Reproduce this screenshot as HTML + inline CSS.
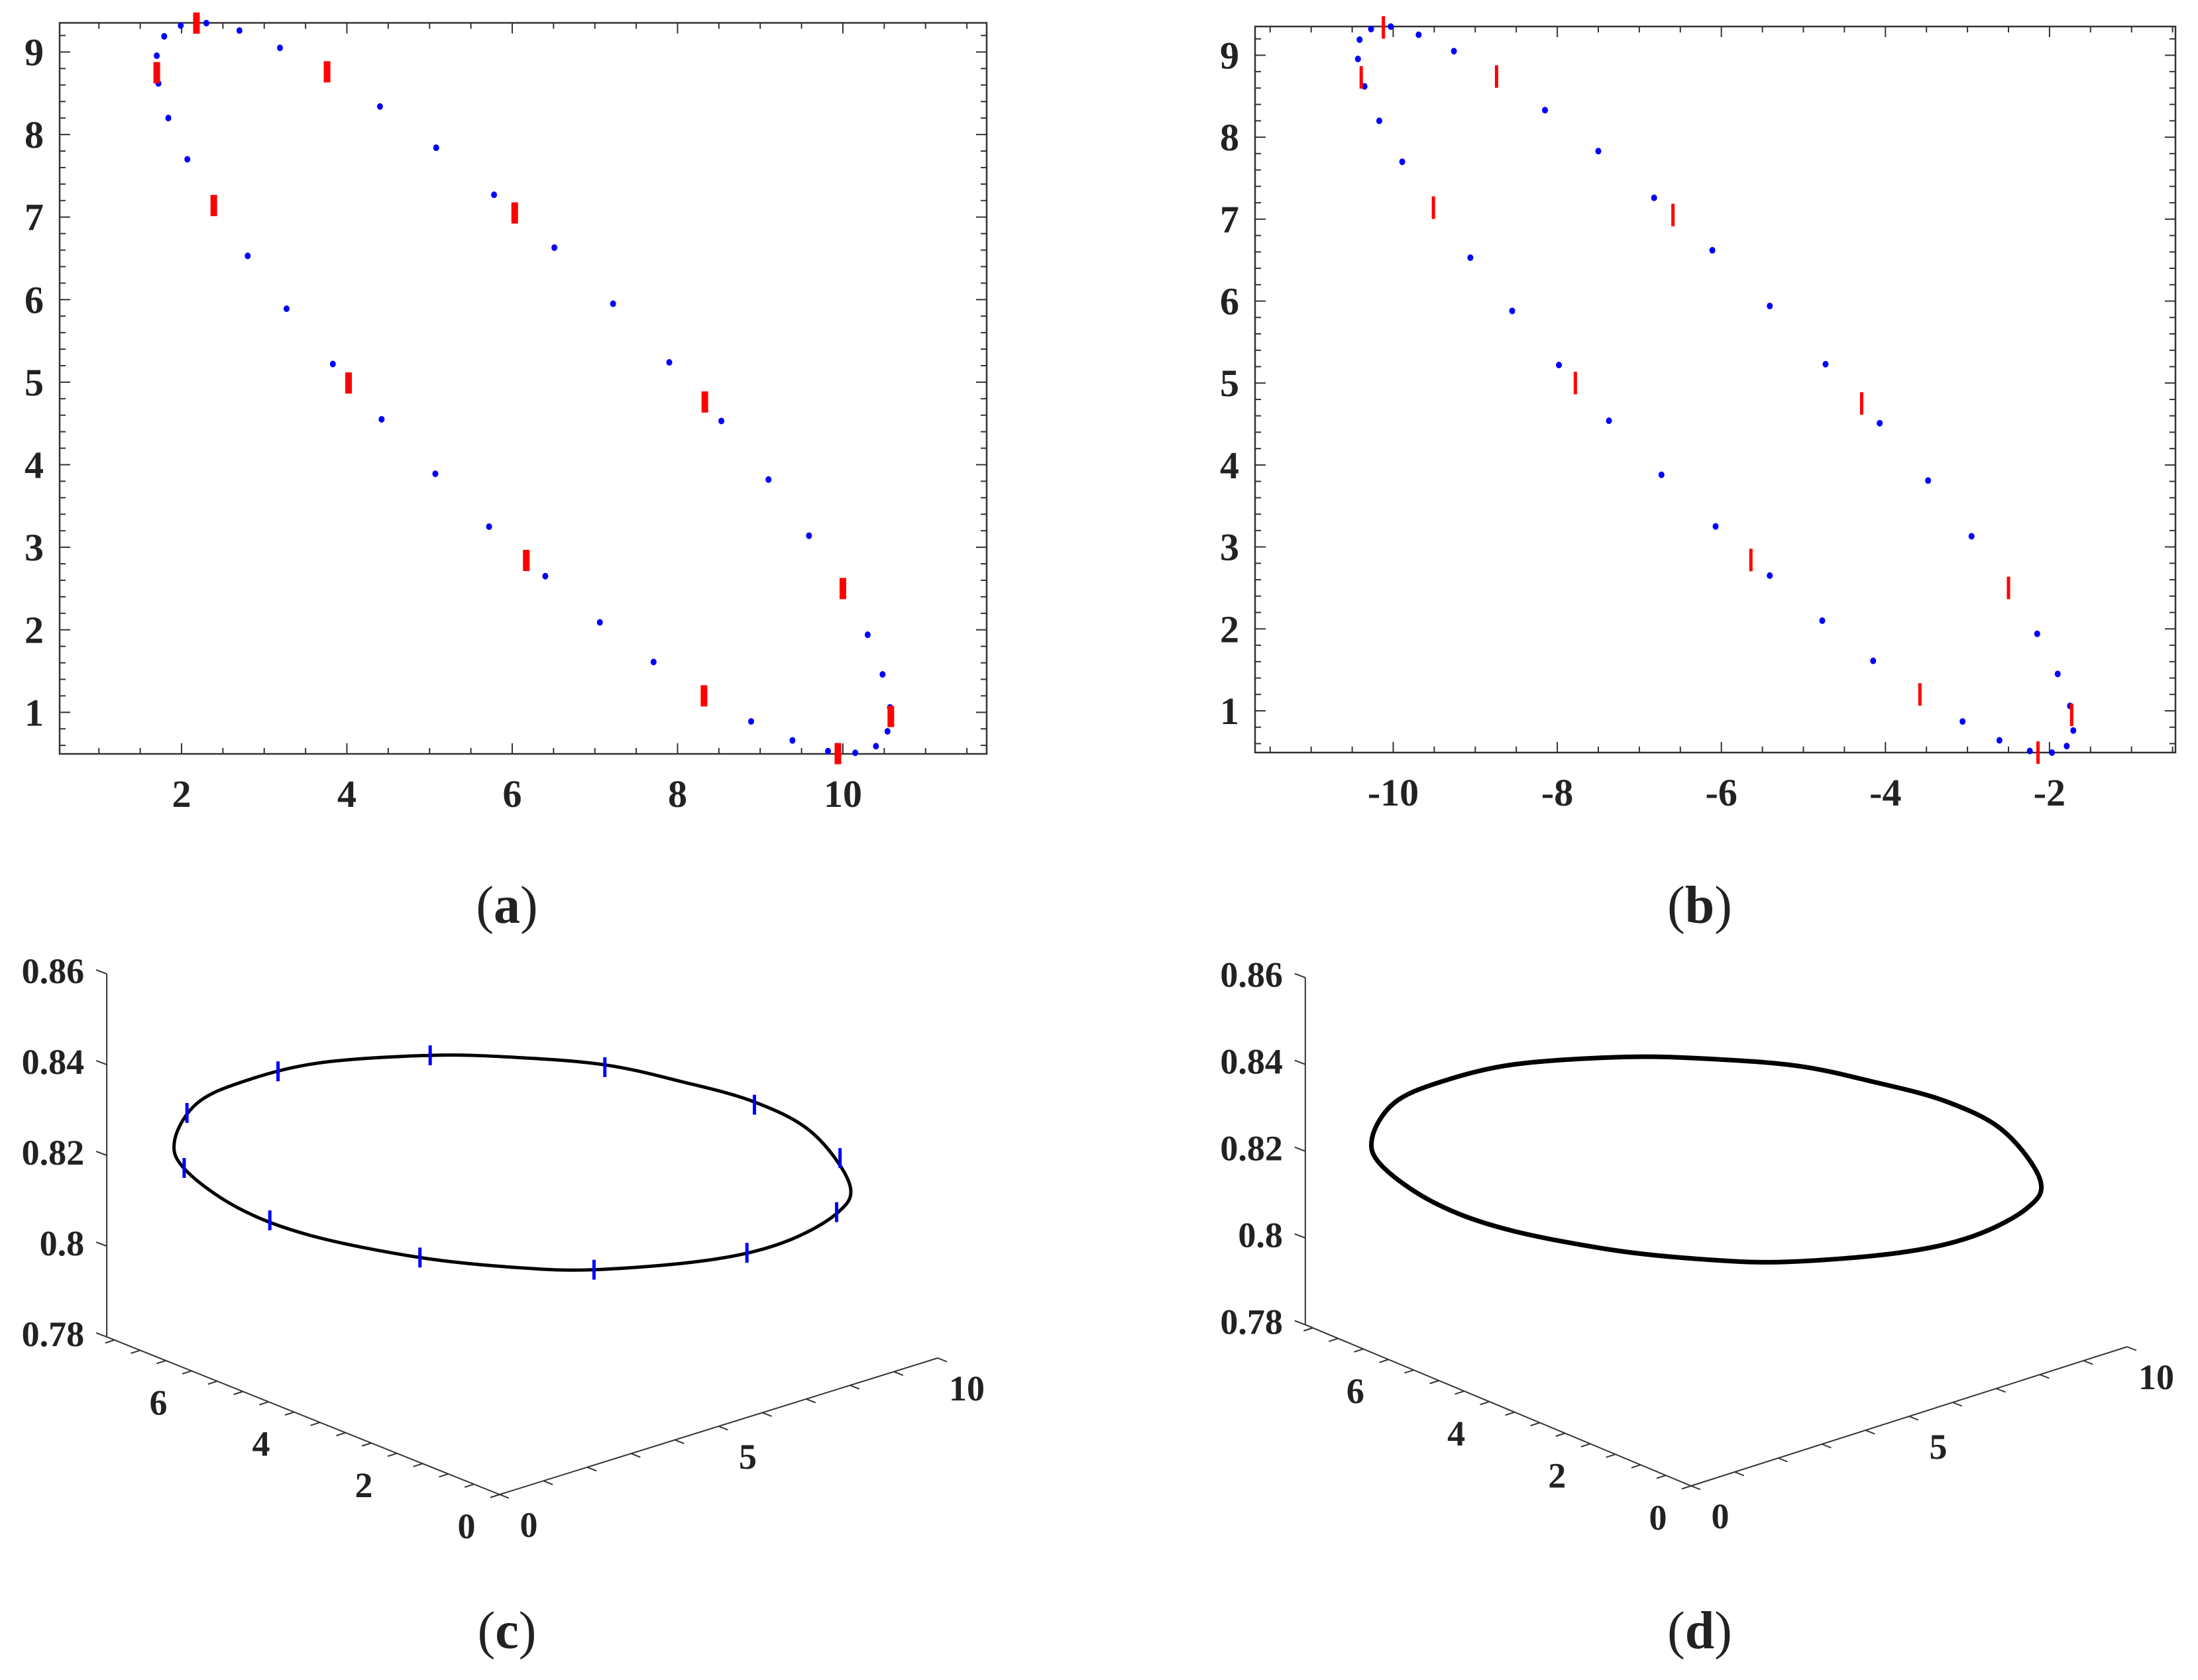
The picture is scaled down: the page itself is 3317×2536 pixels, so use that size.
<!DOCTYPE html>
<html><head><meta charset="utf-8"><style>
html,body{margin:0;padding:0;background:#fff;}
svg{display:block;}
text{font-family:"Liberation Serif",serif;fill:#222;}
</style></head><body>
<svg id="fig" width="3317" height="2536" viewBox="0 0 3317 2536" xmlns="http://www.w3.org/2000/svg">
<g id="pa"></g>
<g id="pb"></g>
<g id="pc"></g>
<g id="pd"></g>
<text x="765" y="1393" font-size="80" text-anchor="middle"><tspan font-weight="normal">(</tspan><tspan font-weight="bold">a</tspan><tspan font-weight="normal">)</tspan></text>
<text x="2565" y="1393" font-size="80" text-anchor="middle"><tspan>(</tspan><tspan font-weight="bold">b</tspan><tspan>)</tspan></text>
<text x="765" y="2488" font-size="80" text-anchor="middle"><tspan>(</tspan><tspan font-weight="bold">c</tspan><tspan>)</tspan></text>
<text x="2565" y="2488" font-size="80" text-anchor="middle"><tspan>(</tspan><tspan font-weight="bold">d</tspan><tspan>)</tspan></text>
</svg>
<script>
// ---- Panel (a) data ----
const aDotX = [1.70,1.72,1.79,1.84,1.99,2.07,2.30,2.70,2.80,3.19,3.27,3.83,4.40,4.42,5.07,5.08,5.72,5.78,6.40,6.51,7.06,7.22,7.71,7.90,8.53,8.89,9.10,9.39,9.59,9.82,10.15,10.30,10.40,10.48,10.54,10.57];
const aDotY = [8.955,8.62,9.19,8.20,9.32,7.70,9.35,9.26,6.53,9.05,5.89,5.22,8.34,4.55,3.89,7.84,3.25,7.27,2.65,6.63,2.09,5.95,1.61,5.24,4.53,0.89,3.82,0.66,3.14,0.53,0.51,1.94,0.59,1.46,0.77,1.06];
const aBarX = [2.18,1.70,3.76,2.39,6.03,4.02,8.33,6.17,10.0,8.32,10.58,9.94];
const aBarY = [9.35,8.75,8.76,7.14,7.05,4.99,4.76,2.84,2.50,1.20,0.95,0.50];
const aXTicks = [2,4,6,8,10];
const aXTickLabels = ["2","4","6","8","10"];
const aYTicks = [1,2,3,4,5,6,7,8,9];
const aYTickLabels = ["1","2","3","4","5","6","7","8","9"];
// ---- Panel (b) data ----
const bDotX = [-10.43,-10.35,-10.41,-10.17,-10.27,-9.89,-10.03,-9.69,-9.06,-9.26,-8.55,-7.98,-8.15,-7.37,-6.73,-7.50,-6.07,-6.82,-5.41,-6.11,-4.77,-5.41,-4.15,-4.73,-4.07,-3.06,-3.48,-2.61,-2.95,-2.24,-1.97,-2.15,-1.79,-1.90,-1.71,-1.75];
const bDotY = [8.955,8.62,9.19,8.20,9.32,7.70,9.35,9.25,6.53,9.05,5.88,5.22,8.33,4.54,3.88,7.83,3.25,7.26,2.65,6.62,2.10,5.94,1.61,5.23,4.51,0.87,3.81,0.64,3.13,0.51,0.49,1.94,0.57,1.45,0.76,1.06];
const bBarX = [-10.12,-10.39,-8.74,-9.51,-6.59,-7.78,-4.29,-5.64,-2.50,-3.58,-1.73,-2.14];
const bBarY = [9.34,8.73,8.74,7.14,7.05,5.00,4.75,2.84,2.50,1.20,0.95,0.49];
const bXTicks = [-10,-8,-6,-4,-2];
const bXTickLabels = ["-10","-8","-6","-4","-2"];
const bYTicks = [1,2,3,4,5,6,7,8,9];
const bYTickLabels = ["1","2","3","4","5","6","7","8","9"];
// ---- Panels (c),(d) 3D curve data ----
const curveX = [0.085,0.389,1.029,2.033,3.523,4.682,5.870,6.876,7.882,8.658,9.162,8.986,8.247,7.242,5.734,4.682,3.384,1.914,0.936,0.224];
const curveY = [6.40,6.223,5.842,5.243,4.357,3.665,2.958,2.360,1.761,1.299,1.0,1.102,1.543,2.142,3.040,3.665,4.438,5.314,5.896,6.320];
const curveZ = [0.8288,0.8368,0.8415,0.8452,0.8464,0.8456,0.8436,0.8397,0.8348,0.8278,0.8163,0.8099,0.8036,0.8001,0.7985,0.7993,0.8019,0.8072,0.8136,0.8223];
const markX = [0.253,1.477,3.523,5.870,7.882,9.032,8.986,7.781,5.725,3.384,1.366,0.215];
const markY = [6.304,5.575,4.357,2.958,1.761,1.075,1.102,1.821,3.045,4.438,5.640,6.326];
const markZ = [0.8347,0.8435,0.8464,0.8431,0.8342,0.8221,0.8102,0.8016,0.7985,0.8019,0.8107,0.8226];
const zTicks = [0.78,0.8,0.82,0.84,0.86];
const zTickLabels = ["0.78","0.8","0.82","0.84","0.86"];
const xTicks3 = [0,5,10];
const xTickLabels3 = ["0","5","10"];
const yTicks3 = [0,2,4,6];
const yTickLabels3 = ["0","2","4","6"];

const NS = "http://www.w3.org/2000/svg";
function mk(parent, tag, attrs){
  const e = document.createElementNS(NS, tag);
  for (const k in attrs) e.setAttribute(k, attrs[k]);
  parent.appendChild(e);
  return e;
}

function panel2D(g, cfg){
  const xs = v => cfg.x0px + (v - cfg.x0) * cfg.xk;
  const ys = v => cfg.y0px - (v - cfg.y0) * cfg.yk;
  const L=cfg.left,R=cfg.right,T=cfg.top,B=cfg.bottom;
  const frame = mk(g,'rect',{x:L,y:T,width:R-L,height:B-T,fill:'none',stroke:'#333','stroke-width':2.5});
  
  
  // minor/major ticks x
  const xmin=(L-cfg.x0px)/cfg.xk+cfg.x0, xmax=(R-cfg.x0px)/cfg.xk+cfg.x0;
  for(let v=Math.ceil(xmin*2)/2; v<=xmax; v+=0.5){
    const px=xs(v); const major=Math.abs(v-Math.round(v/2)*2)<1e-6; const len=major?16:9;
    const t1=mk(g,'line',{x1:px,y1:B,x2:px,y2:B-len,stroke:'#333','stroke-width':2});
    
    
    const t2=mk(g,'line',{x1:px,y1:T,x2:px,y2:T+len,stroke:'#333','stroke-width':2});
    
    
  }
  const ymin=(cfg.y0px-B)/cfg.yk+cfg.y0, ymax=(cfg.y0px-T)/cfg.yk+cfg.y0;
  for(let i=Math.ceil(ymin*5); i<=Math.floor(ymax*5); i++){
    const v=i/5; const py=ys(v); const major=(i%5===0); const len=major?16:9;
    const t1=mk(g,'line',{x1:L,y1:py,x2:L+len,y2:py,stroke:'#333','stroke-width':2});
    
    
    const t2=mk(g,'line',{x1:R,y1:py,x2:R-len,y2:py,stroke:'#333','stroke-width':2});
    
    
  }
  cfg.xTicks.forEach((v,i)=>{
    const t=mk(g,'text',{x:xs(v),y:B+80,'font-size':58,'font-weight':'bold','text-anchor':'middle'});
    t.textContent=cfg.xLabels[i];
    
    
  });
  cfg.yTicks.forEach((v,i)=>{
    const t=mk(g,'text',{x:L-24,y:ys(v)+20,'font-size':58,'font-weight':'bold','text-anchor':'end'});
    t.textContent=cfg.yLabels[i];
    
    
  });
  cfg.dotX.forEach((v,i)=>{
    const c=mk(g,'ellipse',{cx:xs(v),cy:ys(cfg.dotY[i]),rx:4.5,ry:5,fill:'#0000ff'});
    
    
  });
  cfg.barX.forEach((v,i)=>{
    const r=mk(g,'rect',{x:xs(v)-cfg.barW/2,y:ys(cfg.barY[i])-cfg.barH/2,width:cfg.barW,height:cfg.barH,fill:'#ff0000'});
    
    
  });
}

panel2D(document.getElementById('pa'),{left:90,right:1489,top:34.5,bottom:1138,
  x0:2,x0px:274,xk:124.75,y0:1,y0px:1075.3,yk:124.6,
  xTicks:aXTicks,xLabels:aXTickLabels,yTicks:aYTicks,yLabels:aYTickLabels,
  dotX:aDotX,dotY:aDotY,barX:aBarX,barY:aBarY,barW:10,barH:32});
panel2D(document.getElementById('pb'),{left:1894,right:3283,top:40,bottom:1136,
  x0:-10,x0px:2102.5,xk:123.8,y0:1,y0px:1073,yk:123.7,
  xTicks:bXTicks,xLabels:bXTickLabels,yTicks:bYTicks,yLabels:bYTickLabels,
  dotX:bDotX,dotY:bDotY,barX:bBarX,barY:bBarY,barW:5,barH:34});

function panel3D(g, P){
  const proj=(x,y,z)=>[P.ox + P.exx*x + P.eyx*y, P.oy + P.exy*x + P.eyy*y - (z-0.78)*P.ez];
  const YMAX=7.65, XMAX=10;
  const line=(a,b,name)=>{const l=mk(g,'line',{x1:a[0],y1:a[1],x2:b[0],y2:b[1],stroke:'#333','stroke-width':2});
    
     return l;};
  // z axis
  const zb=proj(0,YMAX,0.78), zt=proj(0,YMAX,0.86);
  line(zb,zt,'z-axis');
  zTicks.forEach((v,i)=>{
    const p=proj(0,YMAX,v);
    line(p,[p[0]-16,p[1]-6],'z-tick');
    const t=mk(g,'text',{x:p[0]-34,y:p[1]+14,'font-size':54,'font-weight':'bold','text-anchor':'end'});
    t.textContent=zTickLabels[i];
    
    
  });
  // y axis (x=0)
  line(proj(0,0,0.78),proj(0,YMAX,0.78),'y-axis');
  for(let v=0; v<=YMAX; v+=0.5){
    const p=proj(0,v,0.78);
    line(p,[p[0]-14,p[1]+4.5],'y-tick');
  }
  yTicks3.forEach((v,i)=>{
    const p=proj(0,v,0.78);
    const t=mk(g,'text',{x:p[0]-50,y:p[1]+66,'font-size':54,'font-weight':'bold','text-anchor':'middle'});
    t.textContent=yTickLabels3[i];
    
    
  });
  // x axis (y=0)
  line(proj(0,0,0.78),proj(XMAX,0,0.78),'x-axis');
  for(let v=0; v<=XMAX; v+=1){
    const p=proj(v,0,0.78);
    line(p,[p[0]+14,p[1]+5.5],'x-tick');
  }
  xTicks3.forEach((v,i)=>{
    const p=proj(v,0,0.78);
    const t=mk(g,'text',{x:p[0]+44,y:p[1]+64,'font-size':54,'font-weight':'bold','text-anchor':'middle'});
    t.textContent=xTickLabels3[i];
    
    
  });
  // curve (Catmull-Rom closed)
  const pts=curveX.map((x,i)=>proj(x,curveY[i],curveZ[i]));
  const n=pts.length; let d='M'+pts[0][0]+','+pts[0][1];
  for(let i=0;i<n;i++){
    const p0=pts[(i-1+n)%n],p1=pts[i],p2=pts[(i+1)%n],p3=pts[(i+2)%n];
    const c1=[p1[0]+(p2[0]-p0[0])/6,p1[1]+(p2[1]-p0[1])/6];
    const c2=[p2[0]-(p3[0]-p1[0])/6,p2[1]-(p3[1]-p1[1])/6];
    d+=' C'+c1[0]+','+c1[1]+' '+c2[0]+','+c2[1]+' '+p2[0]+','+p2[1];
  }
  const path=mk(g,'path',{d:d+'Z',fill:'none',stroke:'#000','stroke-width':P.lw,'stroke-linejoin':'round'});
  
  
  if(P.marks){
    markX.forEach((x,i)=>{
      const p=proj(x,markY[i],markZ[i]);
      const l=mk(g,'line',{x1:p[0],y1:p[1]-15,x2:p[0],y2:p[1]+15,stroke:'#0000ff','stroke-width':5});
      
      
    });
  }
}
panel3D(document.getElementById('pc'),{ox:754,oy:2256,exx:66.1,exy:-20.6,eyx:-77.5,eyy:-31.1,ez:6850,lw:5,marks:true});
panel3D(document.getElementById('pd'),{ox:2552,oy:2243,exx:65.8,exy:-21.0,eyx:-76.1,eyy:-31.8,ez:6550,lw:7,marks:false});
</script>
</body></html>
